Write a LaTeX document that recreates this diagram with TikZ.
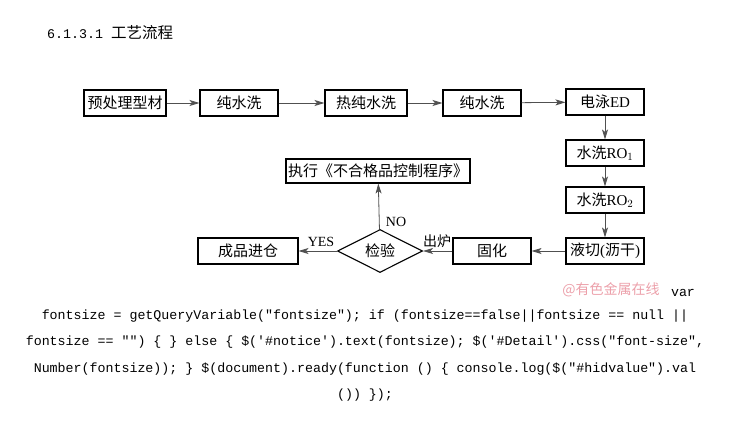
\documentclass[tikz,border=0pt]{standalone}
\usepackage{fontspec}
\setmainfont{Liberation Serif}
\setmonofont{Liberation Mono}
\newfontfamily\cjk{Noto Sans CJK SC}
\usetikzlibrary{arrows.meta, positioning, shapes.geometric}
\definecolor{markpink}{RGB}{236,160,170}
\definecolor{flowgray}{RGB}{80,80,80}

\begin{document}
\begin{tikzpicture}[
    x=1pt, y=-1pt,
    stepbox/.style={draw, line width=1.1pt, minimum width=78pt, minimum height=26pt,
      inner sep=2pt, font=\fontsize{15}{18}\selectfont},
    check/.style={draw, diamond, aspect=2, line width=1.1pt, minimum width=85pt,
      minimum height=43pt, inner sep=0pt, font=\fontsize{15}{18}\selectfont},
    flow/.style={-{Stealth[length=10pt, width=6pt, inset=2.5pt]}, draw=flowgray,
      line width=0.8pt},
    tag/.style={font=\fontsize{14}{16}\selectfont, inner sep=1pt},
    code/.style={font=\ttfamily\fontsize{13.3}{16}\selectfont, inner sep=0pt}
  ]
  \useasboundingbox (0,0) rectangle (730,444);

  % ---- heading ----
  \node[code, anchor=west] (head) at (47,33) {6.1.3.1 {\cjk\fontsize{15.5}{18}\selectfont 工艺流程}};

  % ---- top row ----
  \node[stepbox, minimum width=82pt] (pre)  at (125,103) {\cjk 预处理型材};
  \node[stepbox] (wash1) at (239,103) {\cjk 纯水洗};
  \node[stepbox, minimum width=82pt] (hot) at (366,103) {\cjk 热纯水洗};
  \node[stepbox] (wash2) at (482,103) {\cjk 纯水洗};
  \node[stepbox] (ed)    at (605,102) {{\cjk 电泳}ED};

  % ---- right column ----
  \node[stepbox] (roa) at (605,153) {{\cjk 水洗}RO$_1$};
  \node[stepbox] (rob) at (605,200) {{\cjk 水洗}RO$_2$};
  \node[stepbox] (drain) at (605,251) {{\cjk 液切}({\cjk 沥干})};

  % ---- bottom row ----
  \node[stepbox] (cure)  at (492,251) {\cjk 固化};
  \node[check]   (test)  at (380,251) {\cjk 检验};
  \node[stepbox, minimum width=100pt] (store) at (248,251) {\cjk 成品进仓};
  \node[stepbox, minimum width=173pt, minimum height=24pt] (reject) at (378,171)
    {\cjk 执行《不合格品控制程序》};

  % Arrows
  \draw[flow] (pre) -- (wash1);
  \draw[flow] (wash1) -- (hot);
  \draw[flow] (hot) -- (wash2);
  \draw[flow] (wash2) -- (ed);
  \draw[flow] (ed) -- (roa);
  \draw[flow] (roa) -- (rob);
  \draw[flow] (rob) -- (drain);
  \draw[flow] (drain) -- (cure);
  \draw[flow] (cure) -- (test);
  \draw[flow] (test) -- (store);
  \draw[flow] (test) -- (reject);

  % Labels
  \node[tag] (yes) at (321,242) {YES};
  \node[tag] (no)  at (396,222) {NO};
  \node[tag] (out) at (437,241) {\cjk 出炉};

  % ---- watermark and page text ----
  \node[text=markpink, font=\cjk\fontsize{14}{16}\selectfont, inner sep=0pt] (mark)
    at (611,290) {@有色金属在线};
  \node[code] (ln1) at (683,293) {var};
  \node[code] (ln2) at (365,316) {fontsize = getQueryVariable("fontsize"); if (fontsize==false||fontsize == null ||};
  \node[code] (ln3) at (365,342) {fontsize == "") \{ \} else \{ \$('\#notice').text(fontsize); \$('\#Detail').css("font-size",};
  \node[code] (ln4) at (365,369) {Number(fontsize)); \} \$(document).ready(function () \{ console.log(\$("\#hidvalue").val};
  \node[code] (ln5) at (365,395) {()) \});};
\end{tikzpicture}
\end{document}
